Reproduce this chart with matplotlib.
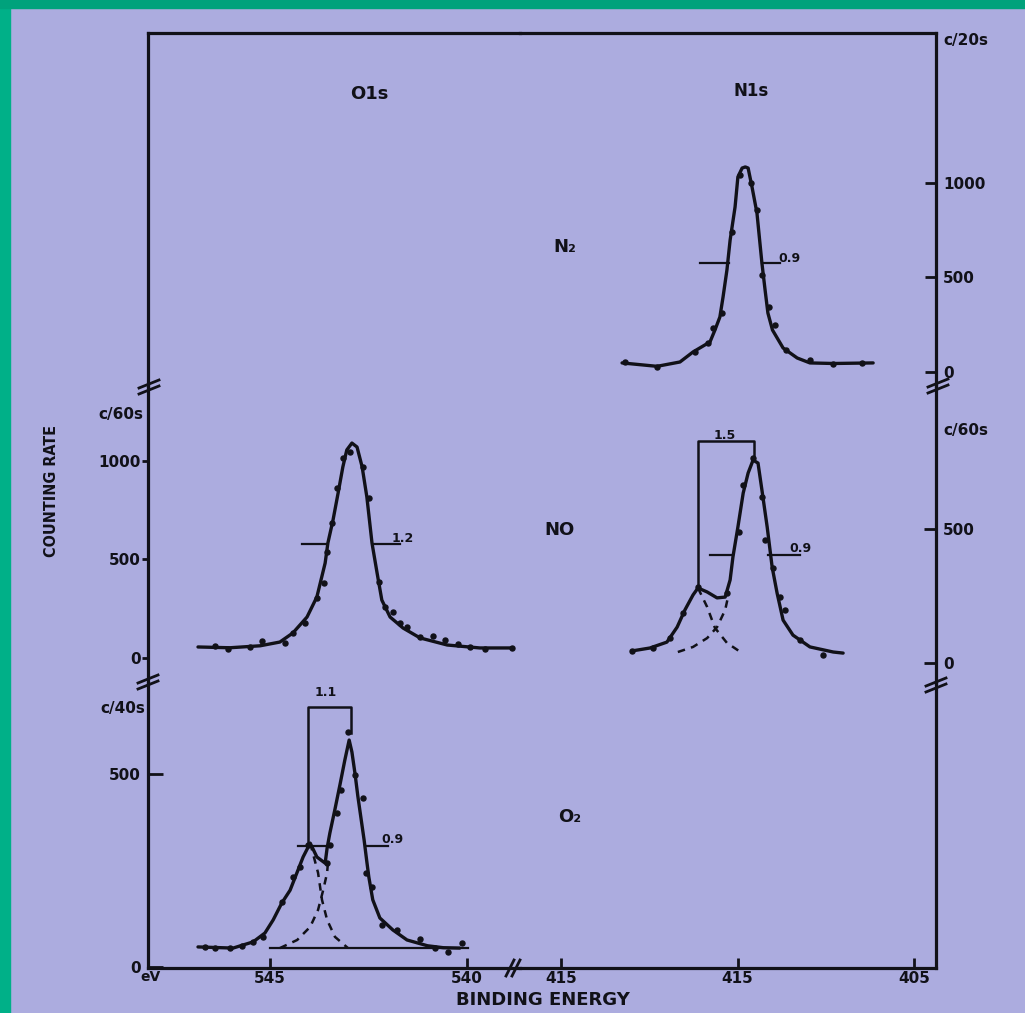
import matplotlib
matplotlib.use('Agg')
import matplotlib.pyplot as plt
from matplotlib import font_manager
from matplotlib.lines import Line2D
from matplotlib.patches import Rectangle

plt.rcParams['font.family'] = 'DejaVu Sans'
plt.rcParams['font.weight'] = 'bold'

W, H = 1025, 1013
BG = '#acacdf'
INK = '#111118'

# O1s spectrum of NO  (binding energy eV, counts / 60 s)
no_o1s_e = [546.83, 546.02, 545.25, 544.75, 544.42, 544.06, 543.81, 543.60, 543.53, 543.40,
            543.27, 543.15, 543.05, 542.92, 542.79, 542.66, 542.54, 542.41, 542.28, 542.16,
            541.95, 541.62, 541.19, 540.50, 539.67, 538.83]
no_o1s_c = [56, 52, 62, 81, 127, 208, 310, 482, 584, 700,
            838, 970, 1056, 1091, 1071, 970, 817, 584, 431, 294,
            208, 152, 102, 66, 51, 51]
no_o1s_pe = [546.40, 546.07, 545.51, 545.20, 544.62, 544.42, 544.11, 543.81, 543.63, 543.55,
             543.43, 543.30, 543.15, 542.97, 542.64, 542.49, 542.23, 542.08, 541.88, 541.70,
             541.52, 541.19, 540.86, 540.56, 540.23, 539.92, 539.54, 538.86]
no_o1s_pc = [61, 46, 56, 86, 76, 127, 178, 305, 381, 538,
             685, 863, 1015, 1046, 970, 812, 386, 259, 234, 178,
             157, 107, 112, 91, 71, 56, 46, 51]
no_o1s_half = 579
no_o1s_bar_l = [544.19, 543.55]
no_o1s_bar_r = [542.39, 541.70]

# O1s spectrum of O2  (counts / 40 s)
o2_o1s_e = [546.83, 545.94, 545.43, 545.13, 544.92, 544.70, 544.49, 544.29, 544.16, 543.98,
            543.81, 543.60, 543.55, 543.48, 543.35, 543.22, 543.10, 542.99, 542.92, 542.84,
            542.77, 542.69, 542.61, 542.54, 542.49, 542.39, 542.21, 541.88, 541.52, 541.00,
            540.60, 540.18]
o2_o1s_c = [52, 49, 65, 88, 122, 166, 199, 251, 285, 321,
            285, 269, 308, 347, 409, 474, 536, 588, 557, 500,
            443, 386, 329, 272, 233, 174, 127, 96, 70, 55,
            50, 49]
o2_o1s_pe = [546.65, 546.40, 546.02, 545.71, 545.43, 545.18, 544.70, 544.42, 544.24, 544.04,
             543.55, 543.48, 543.30, 543.20, 543.02, 542.84, 542.64, 542.56, 542.41, 542.16,
             541.78, 541.19, 540.81, 540.48, 540.13]
o2_o1s_pc = [52, 49, 49, 54, 65, 78, 168, 233, 259, 316,
             269, 316, 399, 458, 609, 497, 438, 244, 207, 109,
             96, 73, 49, 39, 62]
o2_comp1_e = [543.98, 543.78, 543.68, 543.55, 543.35, 543.02]
o2_comp1_c = [321, 244, 174, 122, 78, 49]
o2_comp2_e = [544.75, 544.31, 543.98, 543.78, 543.65, 543.55, 543.53]
o2_comp2_c = [49, 70, 104, 148, 199, 244, 269]
o2_base_e = [545.00, 539.97]
o2_base_c = [49, 49]
o2_half = 314
o2_bar_l = [544.29, 543.48]
o2_bar_r = [542.54, 542.00]
o2_split_e = [544.04, 544.04, 542.94, 542.94]
o2_split_c = [321, 674, 674, 606]

# N1s spectrum of N2  (counts / 20 s)
n2_n1s_e = [413.27, 412.28, 411.63, 411.26, 410.78, 410.64, 410.50, 410.41, 410.30, 410.21,
            410.07, 409.99, 409.87, 409.78, 409.70, 409.59, 409.45, 409.31, 409.22, 409.14,
            409.01, 408.71, 408.31, 407.95, 407.29, 406.16]
n2_n1s_c = [48, 30, 53, 106, 159, 222, 291, 397, 540, 698,
            873, 1032, 1079, 1085, 1079, 979, 841, 577, 434, 312,
            222, 127, 74, 48, 45, 48]
n2_n1s_pe = [413.19, 412.28, 411.20, 410.84, 410.69, 410.44, 410.16, 409.93, 409.62, 409.45,
             409.31, 409.11, 408.94, 408.63, 407.95, 407.29, 406.47]
n2_n1s_pc = [53, 26, 106, 153, 233, 312, 741, 1042, 1000, 857,
             513, 344, 249, 116, 63, 42, 48]
n2_half = 577
n2_bar_l = [411.06, 410.24]
n2_bar_r = [409.31, 408.80]

# N1s spectrum of NO  (counts / 60 s)
no_n1s_e = [412.99, 412.48, 412.00, 411.71, 411.49, 411.26, 411.12, 410.86, 410.58, 410.35,
            410.21, 410.13, 409.99, 409.84, 409.70, 409.56, 409.42, 409.31, 409.16, 409.02,
            408.88, 408.71, 408.43, 407.95, 407.29, 407.01]
no_n1s_c = [45, 56, 78, 134, 198, 254, 280, 265, 243, 246,
            310, 396, 507, 634, 709, 757, 746, 646, 507, 358,
            261, 160, 104, 60, 41, 37]
no_n1s_pe = [412.99, 412.39, 411.91, 411.54, 411.12, 410.30, 409.96, 409.84, 409.56, 409.31,
             409.22, 408.99, 408.80, 408.65, 408.23, 407.58]
no_n1s_pc = [45, 56, 93, 187, 285, 261, 489, 664, 765, 619,
             459, 354, 246, 198, 86, 30]
no_comp1_e = [411.12, 410.86, 410.64, 410.30, 409.87]
no_comp1_c = [280, 209, 131, 75, 37]
no_comp2_e = [411.69, 411.26, 410.86, 410.58, 410.35, 410.27]
no_comp2_c = [41, 60, 93, 134, 198, 246]
no_n1s_half = 403
no_n1s_bar_l = [410.78, 410.13]
no_n1s_bar_r = [409.14, 408.23]
no_split_e = [411.12, 411.12, 409.53, 409.53]
no_split_c = [280, 828, 828, 776]

o1s_ticks = [545, 540]
n1s_ticks = [415, 410, 405]
n1s_ticklabels = ['415', '415', '405']

fig = plt.figure(figsize=(W / 100, H / 100), dpi=100, facecolor=BG)


def fx(p):
    return p / W


def fy(p):
    return 1 - p / H


def panel(x0, y0, x1, y1, xlim, ylim, spines):
    ax = fig.add_axes([fx(x0), fy(y1), fx(x1) - fx(x0), fy(y0) - fy(y1)])
    ax.set_facecolor('none')
    ax.set_xlim(*xlim)
    ax.set_ylim(*ylim)
    for s in ax.spines:
        ax.spines[s].set_visible(s in spines)
        ax.spines[s].set_linewidth(2.3)
        ax.spines[s].set_color(INK)
    ax.set_xticks([])
    ax.set_yticks([])
    return ax


O1S_LIM = (548.10, 538.65)
N1S_LIM = (416.16, 404.38)

ax_lt = panel(148, 33, 520, 386, O1S_LIM, (0, 1), ['left', 'top'])
ax_rt = panel(520, 33, 936, 386, N1S_LIM, (-74.1, 1793.7), ['right', 'top'])
ax_lm = panel(148, 386, 520, 683, O1S_LIM, (-126.9, 1380.7), ['left'])
ax_rm = panel(520, 386, 936, 683, N1S_LIM, (-74.6, 1033.6), ['right'])
ax_lb = panel(148, 683, 520, 968, O1S_LIM, (-2.6, 735.8), ['left', 'bottom'])
ax_rb = panel(520, 683, 936, 968, N1S_LIM, (0, 1), ['right', 'bottom'])

tk = dict(colors=INK, width=2, labelsize=11)
ax_lm.set_yticks([0, 500, 1000])
ax_lm.tick_params(axis='y', direction='out', length=4, pad=1, **tk)
ax_lb.set_yticks([0, 500])
ax_lb.tick_params(axis='y', direction='in', length=11, pad=5, **tk)
ax_lb.set_xticks(o1s_ticks)
ax_lb.tick_params(axis='x', direction='in', length=7, pad=2, **tk)
ax_rt.yaxis.tick_right()
ax_rt.set_yticks([0, 500, 1000])
ax_rt.tick_params(axis='y', direction='in', length=8, pad=5, **tk)
ax_rm.yaxis.tick_right()
ax_rm.set_yticks([0, 500])
ax_rm.tick_params(axis='y', direction='in', length=9, pad=5, **tk)
ax_rb.set_xticks(n1s_ticks)
ax_rb.set_xticklabels(n1s_ticklabels)
ax_rb.tick_params(axis='x', direction='in', length=7, pad=2, **tk)

line = dict(color=INK, lw=2.4, solid_joinstyle='round', solid_capstyle='round')
dots = dict(ls='none', marker='o', ms=3.6, color=INK)
dash = dict(color=INK, lw=1.8, ls=(0, (3, 2.5)))
thin = dict(color=INK, lw=1.6)
small = dict(fontsize=9, fontweight='bold', color=INK, va='center')

# O1s / NO
ax_lm.plot(no_o1s_e, no_o1s_c, **line)
ax_lm.plot(no_o1s_pe, no_o1s_pc, **dots)
ax_lm.plot(no_o1s_bar_l, [no_o1s_half] * 2, **thin)
ax_lm.plot(no_o1s_bar_r, [no_o1s_half] * 2, **thin)
ax_lm.text(541.62, 609, '1.2', ha='center', **small)

# O1s / O2
ax_lb.plot(o2_o1s_e, o2_o1s_c, **line)
ax_lb.plot(o2_o1s_pe, o2_o1s_pc, **dots)
ax_lb.plot(o2_comp1_e, o2_comp1_c, **dash)
ax_lb.plot(o2_comp2_e, o2_comp2_c, **dash)
ax_lb.plot(o2_base_e, o2_base_c, **thin)
ax_lb.plot(o2_bar_l, [o2_half] * 2, **thin)
ax_lb.plot(o2_bar_r, [o2_half] * 2, **thin)
ax_lb.plot(o2_split_e, o2_split_c, color=INK, lw=1.8)
ax_lb.text(541.90, 331, '0.9', ha='center', **small)
ax_lb.text(543.58, 712, '1.1', ha='center', **small)

# N1s / N2
ax_rt.plot(n2_n1s_e, n2_n1s_c, **line)
ax_rt.plot(n2_n1s_pe, n2_n1s_pc, **dots)
ax_rt.plot(n2_bar_l, [n2_half] * 2, **thin)
ax_rt.plot(n2_bar_r, [n2_half] * 2, **thin)
ax_rt.text(408.54, 603, '0.9', ha='center', **small)

# N1s / NO
ax_rm.plot(no_n1s_e, no_n1s_c, **line)
ax_rm.plot(no_n1s_pe, no_n1s_pc, **dots)
ax_rm.plot(no_comp1_e, no_comp1_c, **dash)
ax_rm.plot(no_comp2_e, no_comp2_c, **dash)
ax_rm.plot(no_n1s_bar_l, [no_n1s_half] * 2, **thin)
ax_rm.plot(no_n1s_bar_r, [no_n1s_half] * 2, **thin)
ax_rm.plot(no_split_e, no_split_c, color=INK, lw=1.8)
ax_rm.text(408.23, 429, '0.9', ha='center', **small)
ax_rm.text(410.35, 850, '1.5', ha='center', **small)

# green frame of the scan
fig.add_artist(Rectangle((0, 0), fx(10), 1, transform=fig.transFigure,
                         color='#00b088', zorder=-5))
fig.add_artist(Rectangle((0, fy(8)), 1, 1 - fy(8), transform=fig.transFigure,
                         color='#00a27c', zorder=-5))


# axis breaks
def brk(cx, cy, vertical):
    for d in (-3, 3):
        if vertical:
            xs, ys = [cx - 10, cx + 10], [cy + d + 4, cy + d - 4]
        else:
            xs, ys = [cx + d - 4, cx + d + 4], [cy + 8, cy - 8]
        fig.add_artist(Line2D([fx(v) for v in xs], [fy(v) for v in ys],
                              color=INK, lw=2))


brk(149, 387, True)
brk(148, 682, True)
brk(938, 386, True)
brk(936, 685, True)
brk(513, 968, False)

# narrow face for the vertical axis title, if one is installed
fonts = font_manager.fontManager.ttflist
if any(f.name == 'Liberation Sans Narrow' for f in fonts):
    ylab = dict(family='Liberation Sans Narrow', fontsize=13)
elif any(f.name == 'DejaVu Sans' and f.stretch == 'condensed' for f in fonts):
    ylab = dict(family='DejaVu Sans', fontstretch='condensed', fontsize=11.5)
else:
    ylab = dict(family='DejaVu Sans', fontsize=10)

# texts
txt = dict(color=INK, fontweight='bold', va='center')
fig.text(fx(369), fy(94), 'O1s', ha='center', fontsize=13, **txt)
fig.text(fx(751), fy(91), 'N1s', ha='center', fontsize=12, **txt)
fig.text(fx(565), fy(247), 'N₂', ha='center', fontsize=13, **txt)
fig.text(fx(560), fy(530), 'NO', ha='center', fontsize=13, **txt)
fig.text(fx(570), fy(817), 'O₂', ha='center', fontsize=13, **txt)
fig.text(fx(943), fy(41), 'c/20s', ha='left', fontsize=11, **txt)
fig.text(fx(943), fy(430), 'c/60s', ha='left', fontsize=11, **txt)
fig.text(fx(143), fy(414), 'c/60s', ha='right', fontsize=11, **txt)
fig.text(fx(145), fy(708), 'c/40s', ha='right', fontsize=11, **txt)
fig.text(fx(140), fy(977), 'eV', ha='left', fontsize=10, **txt)
fig.text(fx(52), fy(491), 'COUNTING RATE', ha='center', rotation=90, **ylab, **txt)
fig.text(fx(543), fy(1000), 'BINDING ENERGY', ha='center', fontsize=13, **txt)

fig.savefig('out.png', dpi=100, facecolor=BG)
